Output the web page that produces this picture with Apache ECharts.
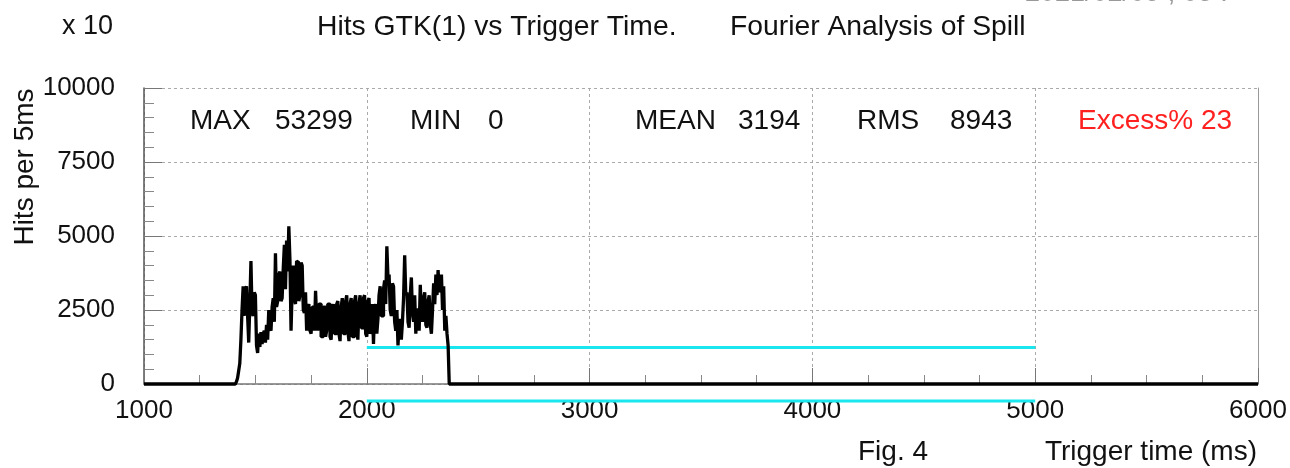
<!DOCTYPE html>
<html>
<head>
<meta charset="utf-8">
<script src="https://cdn.jsdelivr.net/npm/echarts@6/dist/echarts.min.js"></script>
<style>
html,body{margin:0;padding:0;background:#fff;}
#c{width:1290px;height:468px;}
</style>
</head>
<body>
<div id="c"></div>
<script>
// Histogram: 5 ms bins starting at histStart; contents in hits per 5ms (x10)
const histStart = 1400;
const binWidth = 5;
const histValue = [
 0,0, 30,80, 200,450, 700,1500, 2500,3300, 2300,3200, 3300,2300, 1400,2700, 4150,2400, 2300,3100,
 3000,1300, 1050,1700, 1250,1750, 1350,1700, 1800,1400, 2000,1500, 2500,1900, 1800,2600, 2900,2100, 4420,2600,
 2800,3700, 3800,2800, 2900,3900, 4700,3200, 4850,3800, 5330,4200, 1800,3200, 4000,2900, 2700,4150, 4100,2800,
 3000,4100, 4000,2500, 2400,3100, 1800,2600, 2700,1800, 1700,2600, 2600,1800, 3150,2200, 1800,2700, 2700,1600,
 1600,2600, 2600,1600, 1800,2700, 2700,1600, 1500,2500, 2700,1700, 1700,2700, 2800,1700, 1450,2600, 2900,1700,
 1700,2800, 3000,1800, 1450,2700, 2900,1600, 1600,2800, 3000,1800, 1500,2700, 3000,1900, 1900,2900, 3000,1700,
 1600,2800, 2900,1700, 1800,2700, 1350,2500, 2700,1700, 2200,3000, 3300,2300, 2300,3200, 3500,2700, 4650,3600,
 3700,2500, 2300,3400, 3300,2100, 1800,2500, 1300,2000, 2200,1500, 2100,2900, 4350,3000, 3100,2100, 1900,3000,
 3600,2400, 2100,3000, 1700,2500, 2500,1800, 3350,2400, 2100,2900, 3100,2000, 1900,2800, 3000,2000, 1700,2500,
 3400,2700, 3700,3000, 3850,3100, 3200,3700, 2500,3300, 1800,2300, 1700,1300, 0
];
// Cyan reference lines
const cyanX = [2000, 5000];
const cyanUpper = [1233, 1233];
const cyanLower = [-575, -575];
// Axis ticks
const xTicks = [1000, 2000, 3000, 4000, 5000, 6000];
const yTicks = [0, 2500, 5000, 7500, 10000];
// Statistics texts
const statLabels = ['MAX', 'MIN', 'MEAN', 'RMS'];
const statValues = ['53299', '0', '3194', '8943'];
const excessText = 'Excess% 23';

const FF = '"Liberation Sans", Arial, Helvetica, sans-serif';
const chart = echarts.init(document.getElementById('c'));

const statLabelX = [190, 410, 635, 857];
const statValueX = [275, 488, 738, 950];
const graphics = [
  {type:'text', x:62, y:27, style:{text:'x 10', font:'27px ' + FF, fill:'#111', verticalAlign:'middle'}},
  {type:'text', x:317, y:27, style:{text:'Hits GTK(1) vs Trigger Time.', font:'28.3px ' + FF, fill:'#111', verticalAlign:'middle'}},
  {type:'text', x:730, y:27, style:{text:'Fourier Analysis of Spill', font:'28.3px ' + FF, fill:'#111', verticalAlign:'middle'}},
  {type:'text', x:1025, y:-6, style:{text:'2021/02/09 , 05 :', font:'27px ' + FF, fill:'#999', verticalAlign:'middle'}},
  {type:'text', x:25, y:167, rotation:Math.PI/2, style:{text:'Hits per 5ms', font:'28px ' + FF, fill:'#111', align:'center', verticalAlign:'middle'}},
  {type:'text', x:858, y:452, style:{text:'Fig. 4', font:'28px ' + FF, fill:'#111', verticalAlign:'middle'}},
  {type:'text', x:1257, y:452, style:{text:'Trigger time (ms)', font:'28px ' + FF, fill:'#111', align:'right', verticalAlign:'middle'}},
  {type:'text', x:1078, y:121, style:{text:excessText, font:'28px ' + FF, fill:'#ff2020', verticalAlign:'middle'}}
];
statLabels.forEach((s, i) => {
  graphics.push({type:'text', x:statLabelX[i], y:121, style:{text:s, font:'28px ' + FF, fill:'#111', verticalAlign:'middle'}});
  graphics.push({type:'text', x:statValueX[i], y:121, style:{text:statValues[i], font:'28px ' + FF, fill:'#111', verticalAlign:'middle'}});
});

// Build step histogram points: zero from axis start, bins, zero to axis end
const histData = [[xTicks[0], 0]];
histValue.forEach((v, i) => histData.push([histStart + i * binWidth, v]));
histData.push([xTicks[xTicks.length - 1], 0]);

chart.setOption({
  animation: false,
  backgroundColor: '#fff',
  grid: {left:144, right:32, top:88, bottom:84, containLabel:false},
  xAxis: {
    type:'value', min:xTicks[0], max:xTicks[xTicks.length-1], interval:1000,
    axisLine:{show:true, onZero:false, lineStyle:{color:'#777', width:1.5}},
    axisTick:{show:true, inside:true, length:16, lineStyle:{color:'#777'}},
    minorTick:{show:true, splitNumber:4, length:9, lineStyle:{color:'#888'}},
    axisLabel:{margin:14, fontSize:26, fontFamily:FF, color:'#111',
      formatter: v => xTicks.includes(v) ? String(v) : ''},
    splitLine:{show:true, lineStyle:{color:'#aaa', type:[3,3], width:1}}
  },
  yAxis: [{
    type:'value', min:yTicks[0], max:yTicks[yTicks.length-1], interval:2500,
    axisLine:{show:true, onZero:false, lineStyle:{color:'#555', width:1.5}},
    axisTick:{show:true, inside:true, length:18, lineStyle:{color:'#777'}},
    minorTick:{show:true, splitNumber:5, length:10, lineStyle:{color:'#888'}},
    axisLabel:{margin:29, fontSize:26, fontFamily:FF, color:'#111',
      formatter: v => yTicks.includes(v) ? String(v) : ''},
    splitLine:{show:true, lineStyle:{color:'#aaa', type:[3,3], width:1}}
  }, {
    type:'value', position:'right', min:0, max:10000,
    axisLine:{show:true, lineStyle:{color:'#999', width:1}},
    axisTick:{show:false}, axisLabel:{show:false}, splitLine:{show:false}
  }],
  graphic: graphics,
  series: [
    {type:'line', data:[[cyanX[0], cyanUpper[0]], [cyanX[1], cyanUpper[1]]], symbol:'none',
     lineStyle:{color:'#19e6ee', width:3}, silent:true, z:3},
    {type:'line', data:[[cyanX[0], cyanLower[0]], [cyanX[1], cyanLower[1]]], symbol:'none', clip:false,
     lineStyle:{color:'#19e6ee', width:3}, silent:true, z:3},
    {type:'line', step:'end', data:histData, symbol:'none', clip:false,
     lineStyle:{color:'#000', width:3.3}, silent:true, z:4}
  ]
});
</script>
</body>
</html>
